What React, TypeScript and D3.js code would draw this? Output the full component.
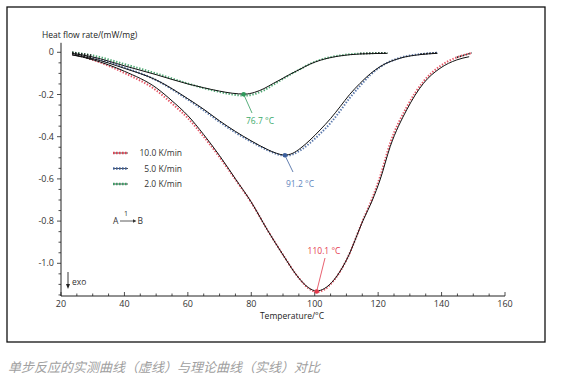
import React from "react";
import * as d3 from "d3";

// ---------- data ----------
const rates = ["10.0 K/min", "5.0 K/min", "2.0 K/min"];
const colors = ["#e2394b", "#3c5f9c", "#2f9a5c"];
const labelColors = ["#e53950", "#5f86bd", "#3aaa6c"];

const redT = [23.5, 30, 40, 50, 55, 60, 65, 70, 75, 80, 85, 90, 95, 98, 100.6, 103, 106, 110, 115.3, 118.2, 120.6, 123.8, 129, 134.3, 139.5, 144.8, 148.7];
const redTheory = [-0.012, -0.035, -0.09, -0.168, -0.23, -0.3, -0.39, -0.49, -0.6, -0.71, -0.84, -0.96, -1.07, -1.115, -1.131, -1.12, -1.08, -0.985, -0.795, -0.7, -0.605, -0.447, -0.273, -0.147, -0.076, -0.036, -0.021];
const redMeasT = [23.5, 30, 40, 50, 55, 60, 65, 70, 75, 80, 85, 90, 95, 98, 100.6, 103, 106, 110, 115.3, 118.2, 120.6, 123.8, 129, 134.3, 139.5, 144.8, 149.5];
const redMeas = [-0.005, -0.035, -0.098, -0.18, -0.243, -0.312, -0.4, -0.497, -0.603, -0.712, -0.84, -0.96, -1.07, -1.118, -1.136, -1.125, -1.082, -0.985, -0.792, -0.69, -0.59, -0.43, -0.26, -0.138, -0.066, -0.024, -0.003];

const blueT = [23.5, 30, 40, 50, 60, 65, 70, 75, 80, 85, 88, 90.6, 93, 95.4, 98.5, 101.7, 105, 108, 111, 114.3, 117.5, 120.6, 126.9, 133.2, 138.7];
const blueTheory = [-0.012, -0.03, -0.076, -0.131, -0.22, -0.27, -0.325, -0.375, -0.42, -0.46, -0.479, -0.487, -0.479, -0.456, -0.416, -0.368, -0.314, -0.258, -0.2, -0.147, -0.102, -0.068, -0.028, -0.011, -0.005];
const blueMeas = [-0.004, -0.026, -0.072, -0.132, -0.224, -0.275, -0.33, -0.38, -0.424, -0.463, -0.482, -0.49, -0.484, -0.465, -0.43, -0.386, -0.335, -0.278, -0.217, -0.159, -0.108, -0.07, -0.026, -0.009, -0.002];

const greenT = [23.5, 30, 40, 50, 60, 65, 70, 74, 78, 81, 84, 87, 89, 92, 95.4, 98.5, 101.7, 108, 114.3, 122.9];
const greenTheory = [-0.005, -0.022, -0.064, -0.106, -0.15, -0.168, -0.184, -0.194, -0.198, -0.19, -0.172, -0.147, -0.131, -0.106, -0.08, -0.056, -0.038, -0.017, -0.008, -0.005];
const greenMeas = [0, -0.015, -0.056, -0.1, -0.148, -0.17, -0.188, -0.2, -0.205, -0.198, -0.18, -0.153, -0.135, -0.108, -0.08, -0.055, -0.036, -0.015, -0.006, -0.003];

const peakT = [100.6, 90.6, 77.6];
const peakV = [-1.134, -0.488, -0.199];
const peakLabels = ["110.1 °C", "91.2 °C", "76.7 °C"];

const xTicks = [20, 40, 60, 80, 100, 120, 140, 160];
const yTicks = [0, -0.2, -0.4, -0.6, -0.8, -1.0];
const yTickLabels = ["0", "-0.2", "-0.4", "-0.6", "-0.8", "-1.0"];

const caption = "单步反应的实测曲线（虚线）与理论曲线（实线）对比";

const series = [
  { T: redT, th: redTheory, mT: redMeasT, m: redMeas },
  { T: blueT, th: blueTheory, mT: blueT, m: blueMeas },
  { T: greenT, th: greenTheory, mT: greenT, m: greenMeas },
];

// ---------- chart ----------
export default function App() {
  const x = d3.scaleLinear().domain([20, 160]).range([61, 505]);
  const y = d3.scaleLinear().domain([0, -1]).range([52.3, 263.3]);
  const font = "'Open Sans', 'Noto Sans', sans-serif";

  const line = (T: number[], v: number[]) =>
    d3
      .line<number>()
      .x((_, i) => x(T[i]))
      .y((d) => y(d))
      .curve(d3.curveMonotoneX)(v) as string;

  const minorX = d3.range(20, 160.01, 5);
  const minorY = d3.range(0, -1.151, -0.05);
  const axisY = y(-1.155);

  const ann = [
    { lx: 325, ly: 258, tx: 324, ty: 254 },
    { lx: 293, ly: 172, tx: 300, ty: 187 },
    { lx: 252, ly: 113, tx: 260, ty: 124 },
  ];

  return (
    <div style={{ position: "fixed", left: 0, top: 0 }}>
      <svg width={562} height={379} style={{ display: "block", background: "#fff" }}>
        <rect x={7} y={7} width={538} height={335} fill="none" stroke="#111" strokeWidth={1.3} />

        {/* axes */}
        <line x1={61} x2={61} y1={y(0.045)} y2={axisY} stroke="#222" strokeWidth={1} />
        <line x1={61} x2={505} y1={axisY} y2={axisY} stroke="#222" strokeWidth={1} />
        {minorX.map((t) => (
          <line key={"mx" + t} x1={x(t)} x2={x(t)} y1={axisY} y2={axisY - (t % 20 === 0 ? 4 : 2.5)} stroke="#222" strokeWidth={0.8} />
        ))}
        {minorY.map((v, i) => (
          <line key={"my" + i} x1={61} x2={61 - (i % 4 === 0 ? 4 : 2.5)} y1={y(v)} y2={y(v)} stroke="#222" strokeWidth={0.8} />
        ))}
        {xTicks.map((t) => (
          <text key={"xt" + t} x={x(t)} y={306.5} fontSize={9} fontFamily={font} textAnchor="middle" fill="#333">
            {t}
          </text>
        ))}
        {yTicks.map((v, i) => (
          <text key={"yt" + i} x={54} y={y(v) + 3} fontSize={9} fontFamily={font} textAnchor="end" fill="#333">
            {yTickLabels[i]}
          </text>
        ))}
        <text x={42} y={38} fontSize={8.5} fontFamily={font} fill="#222">
          Heat flow rate/(mW/mg)
        </text>
        <text x={292} y={319} fontSize={8.5} fontFamily={font} textAnchor="middle" fill="#222">
          Temperature/°C
        </text>

        {/* curves */}
        {series.map((s, i) => {
          const n = s.mT.length;
          return (
            <g key={"s" + i}>
              <path d={line(s.mT, s.m)} fill="none" stroke={colors[i]} strokeWidth={2} strokeDasharray="1.4 1.6" opacity={0.85} />
              <path d={line(s.mT.slice(0, 2), s.m.slice(0, 2))} fill="none" stroke="#222" strokeWidth={1.6} strokeDasharray="1.4 1.6" />
              <path d={line(s.mT.slice(n - 2), s.m.slice(n - 2))} fill="none" stroke="#222" strokeWidth={1.6} strokeDasharray="1.4 1.6" />
              <path d={line(s.T, s.th)} fill="none" stroke="#111" strokeWidth={1} />
            </g>
          );
        })}

        {/* peak annotations */}
        {series.map((_, i) => (
          <g key={"a" + i}>
            <line x1={x(peakT[i])} y1={y(peakV[i])} x2={ann[i].lx} y2={ann[i].ly} stroke={colors[i]} strokeWidth={0.8} />
            <circle cx={x(peakT[i])} cy={y(peakV[i])} r={2.3} fill={colors[i]} />
            <text x={ann[i].tx} y={ann[i].ty} fontSize={8.5} fontFamily={font} textAnchor="middle" fill={labelColors[i]}>
              {peakLabels[i]}
            </text>
          </g>
        ))}

        {/* legend */}
        {rates.map((r, i) => {
          const ly = 153 + i * 15.5;
          return (
            <g key={"l" + i}>
              <line x1={113} x2={128} y1={ly} y2={ly} stroke="#222" strokeWidth={0.8} />
              <line x1={113} x2={128} y1={ly} y2={ly} stroke={colors[i]} strokeWidth={2.4} strokeDasharray="1.6 1.4" opacity={0.9} />
              <text x={182} y={ly + 3} fontSize={8.5} fontFamily={font} textAnchor="end" fill="#333">
                {r}
              </text>
            </g>
          );
        })}

        {/* A -> B */}
        <text x={113} y={224} fontSize={8.5} fontFamily={font} fill="#333">A</text>
        <line x1={120} x2={133} y1={221} y2={221} stroke="#333" strokeWidth={0.8} />
        <path d="M133,219.2 L136.5,221 L133,222.8 Z" fill="#333" />
        <text x={126} y={216} fontSize={7} fontFamily={font} textAnchor="middle" fill="#333">1</text>
        <text x={137.5} y={224} fontSize={8.5} fontFamily={font} fill="#333">B</text>

        {/* exo */}
        <line x1={68} x2={68} y1={272} y2={285} stroke="#222" strokeWidth={0.9} />
        <path d="M66,284 L68,289 L70,284 Z" fill="#222" />
        <text x={72} y={285} fontSize={8.5} fontFamily={font} fill="#333">exo</text>

        {/* caption */}
        <text x={8} y={372} fontSize={13} fontFamily="'Noto Sans CJK SC', sans-serif" fontStyle="italic" fill="#a0a0a0">
          {caption}
        </text>
      </svg>
    </div>
  );
}
